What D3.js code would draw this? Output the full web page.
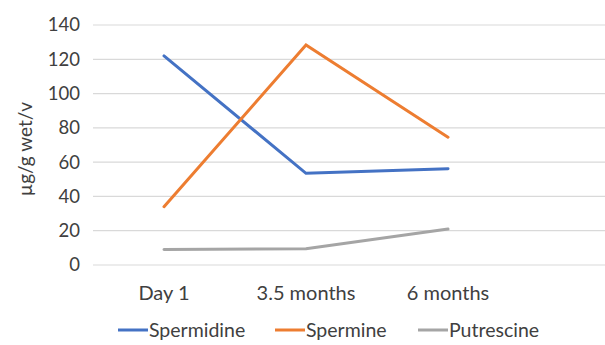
<!DOCTYPE html>
<html><head><meta charset="utf-8">
<script src="https://cdn.jsdelivr.net/npm/d3@7"></script>
<style>body{margin:0;background:#fff}svg{display:block}text{font-family:Lato,"Open Sans",sans-serif;fill:#404040}</style>
</head><body><svg id="c" width="605" height="345"></svg>
<script>
const categories = ["Day 1", "3.5 months", "6 months"];
const seriesNames = ["Spermidine", "Spermine", "Putrescine"];
const spermidine = [122, 53.5, 56.2];
const spermine = [34, 128.3, 74.5];
const putrescine = [9.1, 9.5, 21];
const yTicks = [0, 20, 40, 60, 80, 100, 120, 140];
const colors = ["#4472C4", "#ED7D31", "#A5A5A5"];
const series = [spermidine, spermine, putrescine];

(function () {
const svg = d3.select("#c");
const mLeft = 93, mRight = 605, mTop = 25, mBottom = 265;
const x = d3.scaleBand().domain(categories).range([mLeft, 519]);
const y = d3.scaleLinear().domain([0, 140]).range([mBottom, mTop]);

svg.append("g").selectAll("line").data(yTicks).join("line")
  .attr("x1", mLeft).attr("x2", mRight)
  .attr("y1", d => y(d)).attr("y2", d => y(d))
  .attr("stroke", "#d9d9d9").attr("stroke-width", 1.2);

const yAxis = d3.axisLeft(y).tickValues(yTicks).tickSize(0).tickPadding(13);
const gy = svg.append("g").attr("transform", `translate(${mLeft},0)`).call(yAxis);
gy.select(".domain").remove();
gy.selectAll("text").style("font-size", "18.5px").attr("fill", "#404040").style("font-family", "Lato");

const xAxis = d3.axisBottom(x).tickSize(0).tickPadding(0);
const gx = svg.append("g").attr("transform", `translate(0,${mBottom + 21})`).call(xAxis);
gx.select(".domain").remove();
gx.selectAll("text").style("font-size", "20px").attr("fill", "#404040").attr("dy", "0.71em").style("font-family", "Lato");

svg.append("text").attr("transform", `translate(32,${149}) rotate(-90)`)
  .attr("text-anchor", "middle").style("font-size", "19px").text("µg/g wet/v");

const line = d3.line().x((d, i) => x(categories[i]) + x.bandwidth() / 2).y(d => y(d));
series.forEach((s, k) => {
  svg.append("path").datum(s).attr("d", line).attr("fill", "none")
    .attr("stroke", colors[k]).attr("stroke-width", 3).attr("stroke-linecap", "round");
});

const legX = [118, 275, 418];
const lg = svg.append("g");
seriesNames.forEach((n, k) => {
  lg.append("line").attr("x1", legX[k]).attr("x2", legX[k] + 30).attr("y1", 330).attr("y2", 330)
    .attr("stroke", colors[k]).attr("stroke-width", 3);
  lg.append("text").attr("x", legX[k] + 31).attr("y", 330).attr("dy", "0.35em")
    .style("font-size", "19.5px").text(n);
});
})();
</script></body></html>
